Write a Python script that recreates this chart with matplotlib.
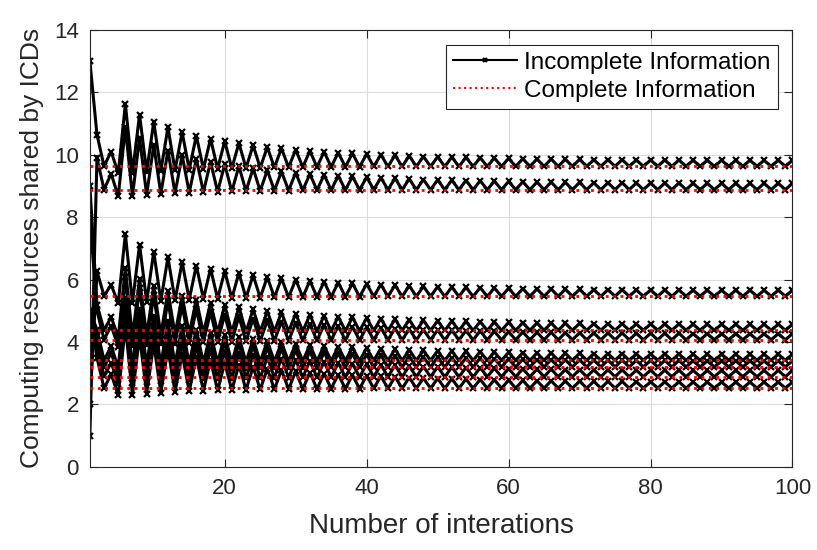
import numpy as np
import matplotlib
matplotlib.use("Agg")
import matplotlib.pyplot as plt

plt.rcParams['font.family'] = ['Liberation Sans', 'DejaVu Sans']

# ─── Data ────────────────────────────────────────────────────────────────────
iterations = np.arange(1, 101)

# equilibrium (complete information) share of each ICD
equilibrium = [9.62, 8.88, 5.46, 4.37, 4.07, 3.41, 3.20, 2.89, 2.52]

# first four iterations of each ICD (incomplete information)
start_vals = [
    [13.0, 10.64, 9.63, 10.10],
    [1.0, 9.89, 8.88, 9.39],
    [2.0, 6.26, 5.48, 5.83],
    [9.0, 5.20, 4.38, 4.80],
    [8.0, 5.00, 4.08, 4.52],
    [5.0, 4.40, 3.42, 3.86],
    [5.0, 4.20, 3.20, 3.65],
    [5.0, 3.90, 2.90, 3.34],
    [5.0, 3.50, 2.52, 2.97],
]

# offset from equilibrium at odd iterations 5, 7, ..., 99
trough_gap = [-0.22, -0.21, -0.17, -0.14, -0.12, -0.10, -0.08, -0.07, -0.06, -0.05,
              -0.04, -0.03, -0.03, -0.02, -0.02, -0.01, -0.01, -0.01, 0.0, 0.0,
              0.0, 0.0, 0.0, 0.0, 0.0, 0.0, 0.0, 0.0, 0.0, 0.0,
              0.0, 0.0, 0.0, 0.0, 0.0, 0.0, 0.0, 0.0, 0.0, 0.0,
              0.0, 0.0, 0.0, 0.0, 0.0, 0.0, 0.0, 0.0]

# offset from equilibrium at even iterations 6, 8, ..., 100
peak_gap = [2.00, 1.66, 1.43, 1.25, 1.10, 0.99, 0.89, 0.81, 0.75, 0.68,
            0.62, 0.58, 0.54, 0.50, 0.47, 0.44, 0.42, 0.40, 0.38, 0.36,
            0.34, 0.32, 0.31, 0.30, 0.29, 0.28, 0.27, 0.26, 0.25, 0.24,
            0.24, 0.23, 0.23, 0.22, 0.22, 0.22, 0.21, 0.21, 0.21, 0.21,
            0.20, 0.20, 0.20, 0.20, 0.20, 0.20, 0.20, 0.20]

# ─── Plot ────────────────────────────────────────────────────────────────────
fig = plt.figure(figsize=(8.17, 5.5), dpi=100)
ax = fig.add_axes([0.110, 0.151, 0.860, 0.795])

for k, (eq, st) in enumerate(zip(equilibrium, start_vals)):
    tail = []
    for lo, hi in zip(trough_gap, peak_gap):
        tail += [eq + lo, eq + hi]
    vals = np.array(st + tail)
    ax.plot(iterations, vals, color='black', lw=2.2, marker='x', ms=4.5, mew=1.6,
            label='Incomplete Information' if k == 0 else None, zorder=2)

for k, eq in enumerate(equilibrium):
    ax.plot(iterations, np.full(len(iterations), eq), color='red', ls=':', lw=2.0,
            label='Complete Information' if k == 0 else None, zorder=3)

ax.set_xlim(1, 100)
ax.set_ylim(0, 14)
ax.set_xticks([20, 40, 60, 80, 100])
ax.set_yticks(np.arange(0, 15, 2))
ax.tick_params(direction='in', labelsize=16, colors='#262626', length=6,
               top=True, right=True, pad=8)
ax.grid(True, color='#dcdcdc', lw=0.8)
ax.set_axisbelow(True)
for sp in ax.spines.values():
    sp.set_color('#262626')
    sp.set_linewidth(0.8)

ax.set_xlabel('Number of interations', fontsize=20, color='#262626', labelpad=10)
ax.set_ylabel('Computing resources shared by ICDs', fontsize=19, color='#262626', labelpad=7)

leg = ax.legend(loc='upper right', fontsize=17.5, numpoints=1, handlelength=2.6,
                fancybox=False, framealpha=1, edgecolor='#262626',
                borderpad=0.3, labelspacing=0.25, handletextpad=0.3, borderaxespad=0,
                bbox_to_anchor=(0.979, 0.966))
leg.get_frame().set_linewidth(0.8)
# thinner legend sample lines, like the reference
leg_lines = leg.get_lines()
leg_lines[0].set_linewidth(1.5)
leg_lines[0].set_markersize(3)
leg_lines[1].set_linewidth(1.5)

plt.savefig('out.png', dpi=100)
plt.close(fig)
